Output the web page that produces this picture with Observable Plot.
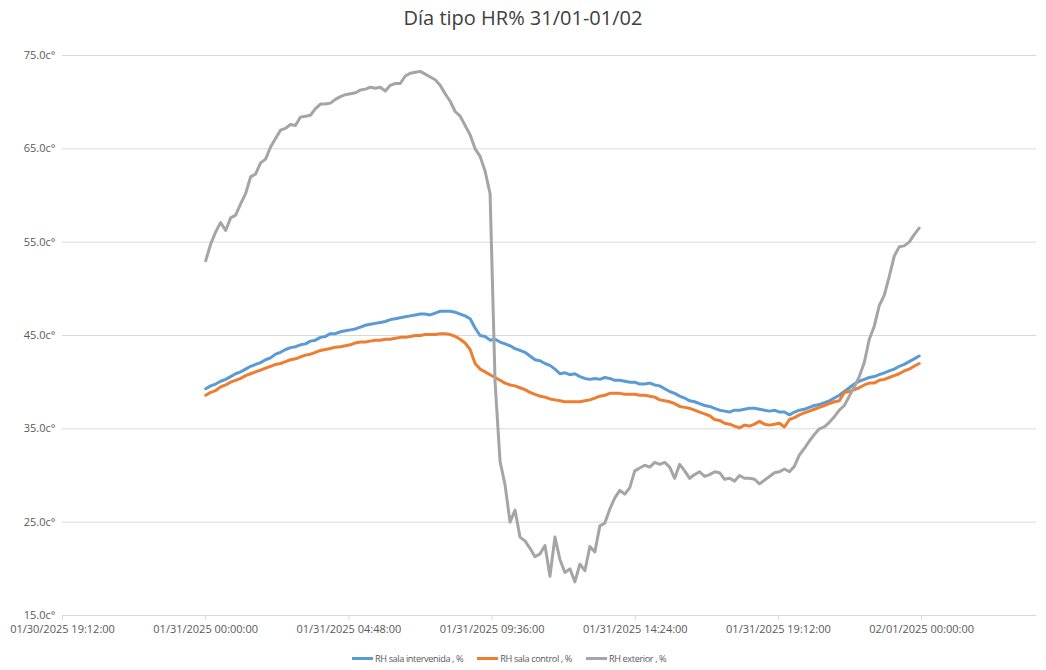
<!DOCTYPE html>
<html>
<head>
<meta charset="utf-8">
<script src="https://cdn.jsdelivr.net/npm/d3@7"></script>
<script src="https://cdn.jsdelivr.net/npm/@observablehq/plot@0.6"></script>
<style>
  html, body { margin: 0; padding: 0; background: #fff; }
  #wrap { position: relative; width: 1046px; height: 670px; font-family: "Open Sans", "Liberation Sans", sans-serif; color: #595959; }
  #title { position: absolute; top: 4px; left: 0; width: 1046px; text-align: center; font-size: 20px; color: #404040; }
  #chart { position: absolute; top: 40px; left: 0; }
  #legend { position: absolute; top: 652px; left: 352px; display: flex; gap: 14px; font-size: 9.2px; letter-spacing: -0.4px; color: #595959; align-items: center; }
  #legend .item { display: flex; align-items: center; }
  #legend .sw { display: inline-block; width: 21px; height: 3px; margin-right: 2px; }
  g[aria-label="x-axis tick"] path { stroke: #d9d9d9; }
</style>
</head>
<body>
<div id="wrap">
  <div id="title">Día tipo HR% 31/01-01/02</div>
  <div id="chart"></div>
  <div id="legend"></div>
</div>
<script>
// Series metadata
const seriesNames = ["RH sala intervenida , %", "RH sala control , %", "RH exterior , %"];
const seriesColors = ["#5B9BD5", "#ED7D31", "#A5A5A5"];

// Sampling: first and last timestamps (evenly spaced readings)
const startTime = "2025-01-31T00:00:00Z";
const endTime = "2025-01-31T23:55:00Z";

// RH sala intervenida (%)
const rhIntervenida = [
39.3,39.6,39.8,40.1,40.3,40.6,40.9,41.1,41.4,41.7,
41.9,42.1,42.4,42.6,43.0,43.2,43.5,43.7,43.8,44.0,
44.1,44.4,44.5,44.8,44.9,45.2,45.2,45.4,45.5,45.6,
45.7,45.9,46.1,46.2,46.3,46.4,46.5,46.7,46.8,46.9,
47.0,47.1,47.2,47.3,47.3,47.2,47.4,47.6,47.6,47.6,
47.5,47.3,47.1,46.8,45.8,45.0,44.9,44.5,44.6,44.3,
44.1,43.9,43.6,43.4,43.2,42.8,42.4,42.3,42.0,41.8,
41.4,40.9,41.0,40.8,40.9,40.6,40.4,40.3,40.4,40.3,
40.5,40.4,40.2,40.2,40.1,40.0,40.0,39.8,39.8,39.9,
39.7,39.6,39.3,39.0,38.8,38.5,38.3,38.0,37.9,37.7,
37.5,37.4,37.2,37.0,36.9,36.8,37.0,37.0,37.1,37.2,
37.2,37.1,37.0,36.9,37.0,36.8,36.8,36.5,36.8,37.0,
37.1,37.3,37.5,37.6,37.8,38.0,38.3,38.6,39.0,39.4,
39.8,40.1,40.3,40.5,40.6,40.8,41.0,41.2,41.4,41.7,
41.9,42.2,42.5,42.8
];

// RH sala control (%)
const rhControl = [
38.6,38.9,39.1,39.5,39.7,40.0,40.2,40.4,40.7,40.9,
41.1,41.3,41.5,41.7,41.9,42.0,42.2,42.4,42.5,42.7,
42.9,43.0,43.2,43.4,43.5,43.6,43.75,43.8,43.9,44.0,
44.2,44.3,44.3,44.4,44.5,44.5,44.6,44.6,44.7,44.8,
44.8,44.9,45.0,45.0,45.1,45.1,45.1,45.2,45.2,45.1,
44.9,44.6,44.2,43.5,42.0,41.4,41.1,40.8,40.5,40.2,
39.9,39.7,39.6,39.4,39.2,38.9,38.7,38.5,38.4,38.2,
38.1,38.0,37.9,37.9,37.9,37.9,38.0,38.1,38.3,38.5,
38.6,38.8,38.8,38.8,38.7,38.7,38.7,38.6,38.6,38.5,
38.4,38.1,38.0,37.9,37.7,37.4,37.3,37.2,37.0,36.8,
36.6,36.4,36.0,35.9,35.6,35.5,35.3,35.1,35.4,35.3,
35.5,35.8,35.5,35.4,35.5,35.6,35.2,36.0,36.2,36.5,
36.7,36.9,37.1,37.3,37.5,37.7,37.9,38.0,38.9,39.0,
39.2,39.4,39.7,39.9,39.9,40.2,40.3,40.5,40.7,40.9,
41.2,41.4,41.7,42.0
];

// RH exterior (%)
const rhExterior = [
53.0,54.8,56.1,57.1,56.25,57.6,57.9,59.1,60.2,62.0,
62.3,63.5,63.9,65.2,66.1,67.0,67.2,67.6,67.5,68.4,
68.5,68.6,69.3,69.8,69.8,69.9,70.3,70.6,70.8,70.9,
71.0,71.3,71.4,71.6,71.5,71.6,71.2,71.8,72.0,72.0,
72.8,73.1,73.2,73.3,73.0,72.7,72.4,71.8,70.9,70.1,
69.0,68.5,67.5,66.5,65.0,64.2,62.6,60.2,40.0,31.5,
29.0,25.0,26.3,23.4,23.0,22.2,21.3,21.6,22.5,19.2,
23.4,21.0,19.6,20.0,18.6,20.5,19.8,22.4,21.8,24.6,
24.9,26.4,27.6,28.4,28.0,28.7,30.5,30.8,31.1,30.9,
31.4,31.2,31.4,30.9,29.7,31.2,30.5,29.7,30.1,30.4,
29.9,30.1,30.4,30.3,29.6,29.7,29.4,30.0,29.7,29.7,
29.6,29.1,29.5,29.9,30.3,30.4,30.7,30.4,31.0,32.2,
32.9,33.7,34.4,35.0,35.2,35.7,36.3,37.0,37.5,38.5,
39.5,40.6,42.1,44.6,46.0,48.2,49.3,51.3,53.5,54.5,
54.6,55.0,55.8,56.5
];

// Axis ticks
const xTicks = ["2025-01-30T19:12:00Z","2025-01-31T00:00:00Z","2025-01-31T04:48:00Z","2025-01-31T09:36:00Z","2025-01-31T14:24:00Z","2025-01-31T19:12:00Z","2025-02-01T00:00:00Z"];
const xDomain = ["2025-01-30T19:12:00Z", "2025-02-01T03:51:00Z"];
const yTicks = [15, 25, 35, 45, 55, 65, 75];

const t0 = new Date(startTime).getTime();
const t1 = new Date(endTime).getTime();
function toRows(values) {
  const n = values.length;
  return values.map((v, i) => ({ t: new Date(t0 + (t1 - t0) * i / (n - 1)), v }));
}
const seriesData = [rhIntervenida, rhControl, rhExterior].map(toRows);

const fmt = d3.utcFormat("%m/%d/%Y %H:%M:%S");

const chart = Plot.plot({
  width: 1046,
  height: 610,
  marginTop: 15,
  marginBottom: 35,
  marginLeft: 62,
  marginRight: 10,
  style: { fontFamily: '"Open Sans", "Liberation Sans", sans-serif', fontSize: "11px", color: "#595959", background: "white" },
  x: { type: "utc", domain: xDomain.map(d => new Date(d)), label: null },
  y: { domain: [15, 75], label: null },
  marks: [
    Plot.gridY(yTicks, { stroke: "#d9d9d9", strokeOpacity: 1 }),
    Plot.axisY(yTicks, { tickSize: 0, tickPadding: 7, tickFormat: d => d.toFixed(1) + "c°", label: null }),
    Plot.axisX(xTicks.map(d => new Date(d)), { tickSize: 5, tickPadding: 5, tickFormat: fmt, label: null }),
    ...seriesData.map((rows, k) => Plot.line(rows, { x: "t", y: "v", stroke: seriesColors[k], strokeWidth: 3, strokeLinejoin: "round", strokeLinecap: "round" }))
  ]
});
document.getElementById("chart").appendChild(chart);

const legend = document.getElementById("legend");
seriesNames.forEach((name, k) => {
  const item = document.createElement("div");
  item.className = "item";
  const sw = document.createElement("span");
  sw.className = "sw";
  sw.style.background = seriesColors[k];
  const lab = document.createElement("span");
  lab.textContent = name;
  item.appendChild(sw);
  item.appendChild(lab);
  legend.appendChild(item);
});
</script>
</body>
</html>
